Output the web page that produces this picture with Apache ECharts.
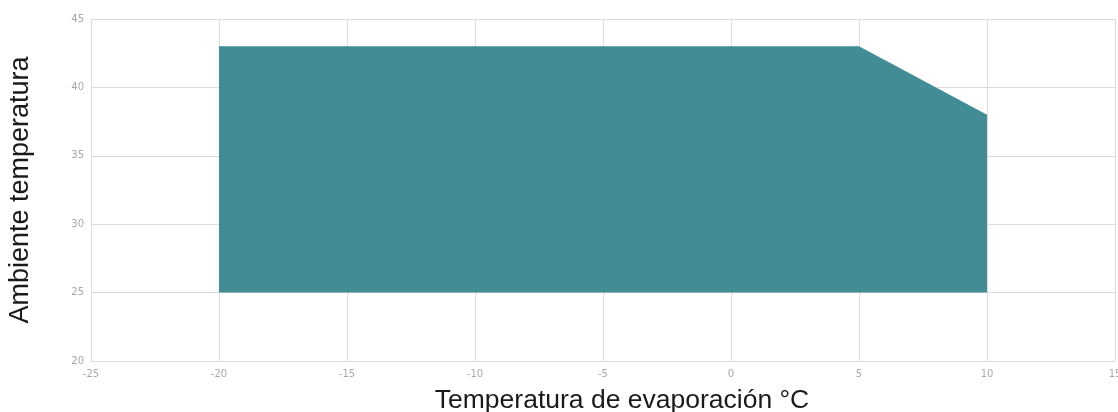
<!DOCTYPE html>
<html>
<head>
<meta charset="utf-8">
<script src="https://cdn.jsdelivr.net/npm/echarts@6/dist/echarts.min.js"></script>
<style>
html,body{margin:0;padding:0;background:#fff;}
#chart{width:1118px;height:412px;}
</style>
</head>
<body>
<div id="chart"></div>
<script>
// Envelope polygon vertices (evaporation temp, ambient temp)
const evapTemps = [-20, -20, 5, 10, 10];
const ambientTemps = [25, 43, 43, 38, 25];
const xTicks = [-25, -20, -15, -10, -5, 0, 5, 10, 15];
const yTicks = [20, 25, 30, 35, 40, 45];
const xTitle = 'Temperatura de evaporación °C';
const yTitle = 'Ambiente temperatura';

const points = evapTemps.map((x, i) => [x, ambientTemps[i]]);

const chart = echarts.init(document.getElementById('chart'), null, {renderer: 'canvas'});
const gridColor = '#dcdcdc';
const labelColor = '#a8a8a8';
chart.setOption({
  animation: false,
  grid: {left: 91, right: 3, top: 19, bottom: 51, containLabel: false, outerBoundsMode: 'none'},
  xAxis: {
    type: 'value',
    min: xTicks[0], max: xTicks[xTicks.length - 1], interval: 5,
    name: xTitle, nameLocation: 'middle', nameGap: 26,
    nameTextStyle: {fontFamily: 'Liberation Sans', fontSize: 26.5, color: '#1a1a1a', verticalAlign: 'top', padding: [0, 0, 0, 38]},
    axisLine: {show: true, lineStyle: {color: gridColor}},
    axisTick: {show: false},
    axisLabel: {color: labelColor, fontSize: 10, fontFamily: 'DejaVu Sans', margin: 8},
    splitLine: {show: true, lineStyle: {color: gridColor, width: 1}}
  },
  yAxis: {
    type: 'value',
    min: yTicks[0], max: yTicks[yTicks.length - 1], interval: 5,
    name: yTitle, nameLocation: 'middle', nameGap: 57, nameRotate: 90,
    nameTextStyle: {fontFamily: 'Liberation Sans', fontSize: 27, color: '#1a1a1a'},
    axisLine: {show: true, lineStyle: {color: gridColor}},
    axisTick: {show: false},
    axisLabel: {color: labelColor, fontSize: 10, fontFamily: 'DejaVu Sans', margin: 7},
    splitLine: {show: true, lineStyle: {color: gridColor, width: 1}}
  },
  series: [{
    type: 'custom',
    coordinateSystem: 'cartesian2d',
    data: points,
    renderItem: function (params, api) {
      if (params.dataIndex !== 0) return null;
      const pts = points.map(p => api.coord(p));
      return {
        type: 'polygon',
        shape: {points: pts},
        style: {fill: '#428c96', stroke: null}
      };
    },
    encode: {x: 0, y: 1},
    z: 3
  }]
});
</script>
</body>
</html>
